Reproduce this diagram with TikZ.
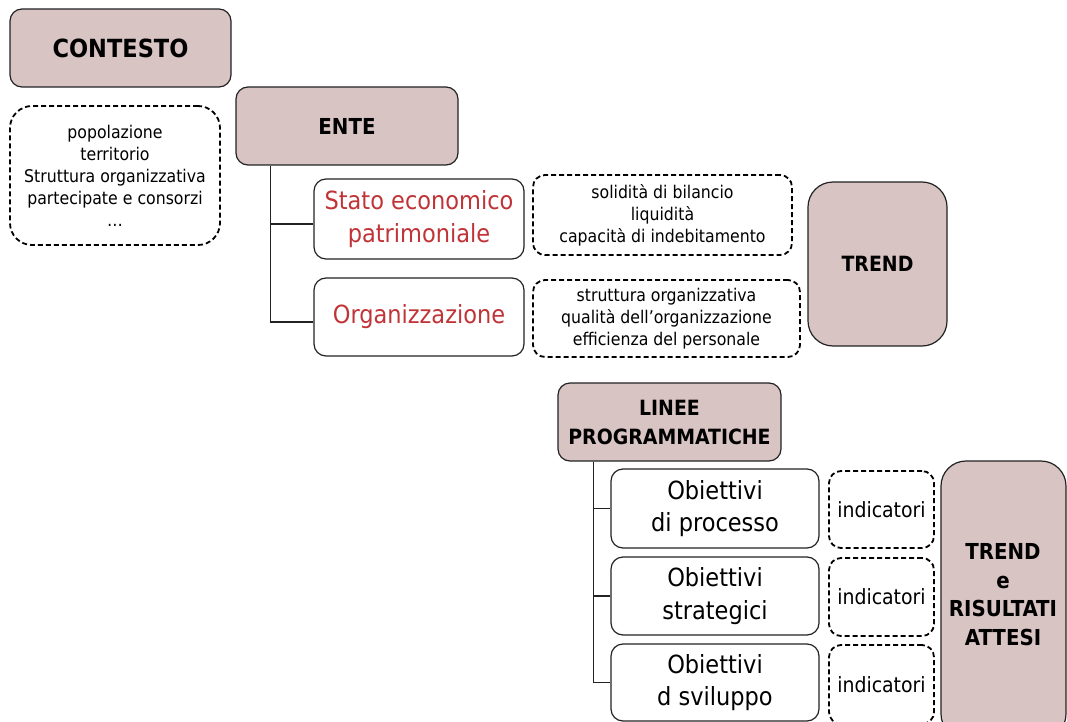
\documentclass[tikz,border=0pt]{standalone}
\usepackage{fontspec}
\setmainfont{DejaVu Sans Condensed}[BoldFont={DejaVu Sans Condensed Bold}]
\usetikzlibrary{calc}
\definecolor{pinkc}{RGB}{217,196,196}
\definecolor{redc}{RGB}{192,52,56}
\definecolor{linec}{RGB}{34,34,34}
\newcommand{\fsz}[2]{\fontsize{#1}{#2}\selectfont}
\tikzset{
  pinkbox/.style={draw=linec, line width=1.2pt, fill=pinkc, rounded corners=12pt, inner sep=0pt, align=center},
  whitebox/.style={draw=linec, line width=1.2pt, fill=white, rounded corners=12pt, inner sep=0pt, align=center},
  dashbox/.style={draw=black, line width=1.8pt, dash pattern=on 5pt off 3pt, rounded corners=12pt, inner sep=0pt, align=center},
  conn/.style={draw=linec, line width=1.2pt},
  titlefont/.style={font=\fsz{#1}{29}\bfseries},
  smallfont/.style={font=\fsz{17.5}{22}},
  bigfont/.style={font=\fsz{25}{32.5}},
}
\begin{document}
\begin{tikzpicture}[x=1pt,y=-1pt]
\useasboundingbox (0,0) rectangle (1067,722);
\clip (0,0) rectangle (1067,722);
% top part
\node[pinkbox, minimum width=221pt, minimum height=78pt, titlefont=25] (contesto) at (120.5,48) {CONTESTO};
\node[dashbox, rounded corners=22pt, minimum width=210pt, minimum height=139pt, smallfont] (ctx) at (115,175.5) {popolazione\\territorio\\Struttura organizzativa\\partecipate e consorzi\\\ldots};
\node[pinkbox, minimum width=222pt, minimum height=78pt, titlefont=22] (ente) at (347,126) {ENTE};
\node[whitebox, minimum width=210pt, minimum height=80pt, text=redc, bigfont] (stato) at (419,219) {Stato economico\\patrimoniale};
\node[whitebox, minimum width=210pt, minimum height=78pt, text=redc, bigfont] (org) at (419,317) {Organizzazione};
\node[dashbox, minimum width=259pt, minimum height=80pt, smallfont] (sol) at (662.5,215) {solidità di bilancio\\liquidità\\capacità di indebitamento};
\node[dashbox, minimum width=267pt, minimum height=77pt, smallfont] (strut) at (666.5,318.5) {struttura organizzativa\\qualità dell’organizzazione\\efficienza del personale};
\node[pinkbox, rounded corners=25pt, minimum width=139pt, minimum height=164pt, titlefont=21] (trend) at (877.5,264) {TREND};
\coordinate (ev) at ($(ente.south west)+(35,0)$);
\draw[conn] (ev) |- ([yshift=-5pt]stato.west);
\draw[conn] (ev) |- ([yshift=-5pt]org.west);
% bottom part
\node[pinkbox, minimum width=223pt, minimum height=78pt, titlefont=21] (linee) at (669.5,422) {LINEE\\PROGRAMMATICHE};
\node[whitebox, minimum width=208pt, minimum height=79pt, bigfont] (ob1) at (715,508.5) {Obiettivi\\di processo};
\node[whitebox, minimum width=208pt, minimum height=78pt, bigfont] (ob2) at (715,596) {Obiettivi\\strategici};
\node[whitebox, minimum width=208pt, minimum height=77pt, bigfont] (ob3) at (715,682.5) {Obiettivi\\d sviluppo};
\node[dashbox, minimum width=105pt, minimum height=77pt, font=\fsz{21}{26}] (ind1) at (881.5,509.5) {indicatori};
\node[dashbox, minimum width=105pt, minimum height=78pt, font=\fsz{21}{26}] (ind2) at (881.5,597) {indicatori};
\node[dashbox, minimum width=105pt, minimum height=79pt, font=\fsz{21}{26}] (ind3) at (881.5,684.5) {indicatori};
\node[pinkbox, rounded corners=25pt, minimum width=125pt, minimum height=278pt] (ris) at (1003.5,600) {};
\node[align=center, inner sep=0pt, font=\fsz{22}{28.5}\bfseries] (risT) at (1003,594.5) {TREND\\e\\RISULTATI\\ATTESI};
\coordinate (lv) at ($(linee.south west)+(36,0)$);
\draw[conn] (lv) |- (ob1.west);
\draw[conn] (lv) |- (ob2.west);
\draw[conn] (lv) |- (ob3.west);
\end{tikzpicture}
\end{document}
